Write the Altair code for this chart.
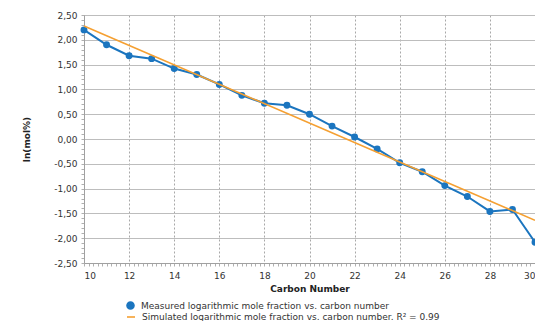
import altair as alt
import pandas as pd

carbon = list(range(10, 31))
measured = [2.20, 1.90, 1.68, 1.62, 1.42, 1.30, 1.10, 0.88, 0.72, 0.68, 0.50,
            0.26, 0.04, -0.20, -0.48, -0.66, -0.94, -1.16, -1.46, -1.42, -2.08]
sim_carbon = [10, 30]
simulated = [2.28, -1.64]

m_label = "Measured logarithmic mole fraction vs. carbon number"
s_label = "Simulated logarithmic mole fraction vs. carbon number. R\u00b2 = 0.99"

df_m = pd.DataFrame({"carbon": carbon, "value": measured, "series": m_label})
df_s = pd.DataFrame({"carbon": sim_carbon, "value": simulated, "series": s_label})

x_ticks = [round(10 + 0.2 * i, 1) for i in range(101)]
y_ticks = [round(-2.5 + 0.1 * i, 1) for i in range(51)]

FONT = "DejaVu Sans"
x_major = "abs(datum.value/2 - round(datum.value/2)) < 0.001"
y_major = "abs(datum.value*2 - round(datum.value*2)) < 0.001"

x_enc = alt.X(
    "carbon:Q",
    scale=alt.Scale(domain=[10, 30], nice=False, zero=False),
    axis=alt.Axis(
        values=x_ticks, title="Carbon Number", labelOverlap=False,
        labelExpr=f"{x_major} ? format(datum.value, 'd') : ''",
        gridOpacity={"condition": {"test": x_major, "value": 1}, "value": 0},
        gridDash=[2, 2], gridColor="#a8a8a8", gridWidth=1,
        tickSize=3, tickColor="#b0b0b0", domainColor="#a0a0a0",
        labelPadding=5, titlePadding=4,
        labelFont=FONT, labelFontSize=9, labelColor="#333333",
        titleFont=FONT, titleFontSize=9, titleFontWeight="bold", titleColor="#222222",
    ),
)
y_enc = alt.Y(
    "value:Q",
    scale=alt.Scale(domain=[-2.5, 2.5], nice=False, zero=False),
    axis=alt.Axis(
        values=y_ticks, title="ln(mol%)", labelOverlap=False,
        labelExpr=(f"{y_major} ? ((datum.value < -0.001 ? '-' : '') + "
                   "replace(format(abs(datum.value), '.2f'), '.', ',')) : ''"),
        gridOpacity={"condition": {"test": y_major, "value": 1}, "value": 0},
        gridColor="#bdbdbd", gridWidth=1.2,
        tickSize=3, tickColor="#b0b0b0", domainColor="#a0a0a0",
        labelPadding=4, titlePadding=22,
        labelFont=FONT, labelFontSize=9, labelColor="#333333",
        titleFont=FONT, titleFontSize=9, titleFontWeight="bold", titleColor="#222222",
    ),
)

measured_layer = alt.Chart(df_m).mark_line(
    strokeWidth=2, point=alt.OverlayMarkDef(filled=True, size=48)
).encode(
    x=x_enc, y=y_enc,
    color=alt.Color("series:N", scale=alt.Scale(domain=[m_label], range=["#1b75bf"]),
                    legend=alt.Legend(title=None, orient="none", legendX=42, legendY=286,
                                      symbolType="circle", symbolSize=50,
                                      labelFont=FONT, labelFontSize=9, labelColor="#333333",
                                      labelOffset=6, labelLimit=600)),
)

sim_layer = alt.Chart(df_s).mark_line(strokeWidth=1.6).encode(
    x=x_enc, y=y_enc,
    color=alt.Color("series:N", scale=alt.Scale(domain=[s_label], range=["#f5a032"]),
                    legend=alt.Legend(title=None, orient="none", legendX=42, legendY=297,
                                      symbolType="stroke", symbolSize=64, symbolStrokeWidth=1.6,
                                      labelFont=FONT, labelFontSize=9, labelColor="#333333",
                                      labelOffset=6, labelLimit=600)),
)

chart = alt.layer(measured_layer, sim_layer).resolve_scale(color="independent").properties(
    width=451, height=248,
    autosize=alt.AutoSizeParams(type="none"),
    padding={"left": 76, "top": 7, "right": 0, "bottom": 58},
).configure_view(stroke="#b0b0b0", strokeWidth=1)

chart.save("out.html", embed_options={"renderer": "svg", "actions": False})
